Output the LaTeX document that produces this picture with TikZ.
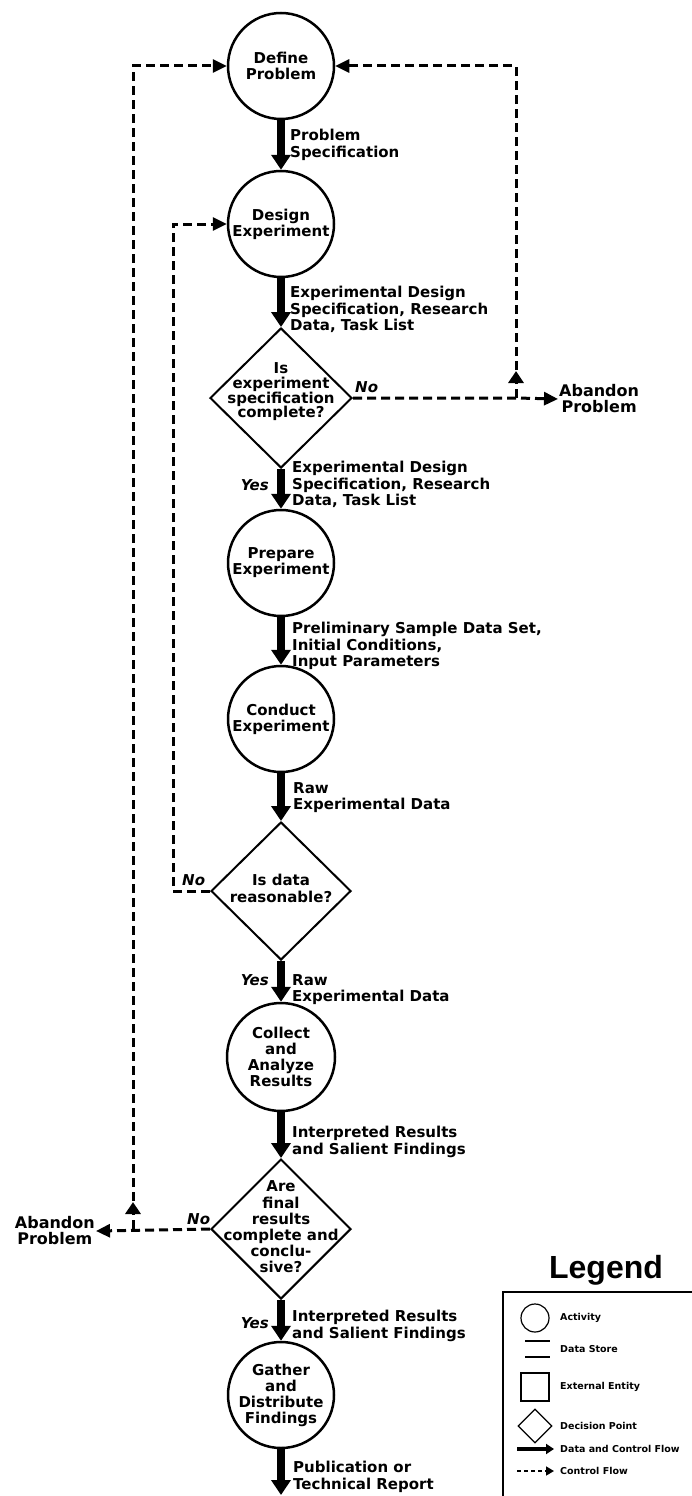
\documentclass[tikz,border=0pt]{standalone}
\usepackage{fontspec}
\setmainfont{DejaVu Sans}
\newfontfamily\legfont{Liberation Sans}
\usetikzlibrary{arrows.meta,shapes.geometric,decorations.markings}
\begin{document}
\begin{tikzpicture}[x=1pt,y=-1pt,
  act/.style={circle,draw,line width=2.5pt,minimum size=106pt,inner sep=0pt,align=center,font=\bfseries\fontsize{15}{16}\selectfont},
  dec/.style={diamond,draw,line width=2pt,minimum width=142pt,minimum height=140pt,inner sep=0pt},
  dectext/.style={align=center,inner sep=0pt,font=\bfseries\fontsize{15}{14.7}\selectfont},
  flow/.style={line width=8pt,-{Triangle[length=15pt,width=19pt]}},
  ctrl/.style={line width=3pt,dash pattern=on 9pt off 5pt,-{Triangle[length=14pt,width=13pt]}},
  midup/.style={postaction={decorate},decoration={markings,mark=at position 27pt with {\arrow{Triangle[length=12pt,width=15pt]}}}},
  lbl/.style={anchor=north west,align=left,inner sep=0pt,font=\bfseries\fontsize{15}{16.5}\selectfont},
  yn/.style={inner sep=0pt,font=\bfseries\itshape\fontsize{15}{16}\selectfont},
  aband/.style={align=center,inner sep=1pt,font=\bfseries\fontsize{16}{16}\selectfont},
  legtext/.style={anchor=west,inner sep=0pt,font=\bfseries\fontsize{9.5}{10}\selectfont}
]
\useasboundingbox (0,0) rectangle (692,1496);
\fill[white] (0,0) rectangle (692,1496);

% main column
\node[act] (dp) at (281,66) {Define\\Problem};
\node[act] (de) at (281,224) {Design\\Experiment};
\node[dec] (d1) at (281,398) {};
\node[dectext] (d1t) at (281,392) {Is\\experiment\\specification\\complete?};
\node[act] (pe) at (281,563) {Prepare\\Experiment};
\node[act] (ce) at (281,719) {Conduct\\Experiment};
\node[dec,minimum height=138pt,minimum width=140pt] (d2) at (281,891) {};
\node[dectext,font=\bfseries\fontsize{15}{17}\selectfont] (d2t) at (281,888) {Is data\\reasonable?};
\node[act,minimum size=108pt] (ca) at (281,1057) {Collect\\and\\Analyze\\Results};
\node[dec,minimum width=140pt] (d3) at (281,1229) {};
\node[dectext,font=\bfseries\fontsize{15}{16.2}\selectfont] (d3t) at (281,1227) {Are\\final\\results\\complete and\\conclu-\\sive?};
\node[act] (gd) at (281,1395) {Gather\\and\\Distribute\\Findings};
\coordinate (end) at (281,1495);

% data and control flows
\draw[flow] (dp.south) -- (de.north);
\draw[flow] (de.south) -- (d1.north);
\draw[flow] (d1.south) -- (pe.north);
\draw[flow] (pe.south) -- (ce.north);
\draw[flow] (ce.south) -- (d2.north);
\draw[flow] (d2.south) -- (ca.north);
\draw[flow] (ca.south) -- (d3.north);
\draw[flow] (d3.south) -- (gd.north);
\draw[flow] (gd.south) -- (end);

% flow labels
\node[lbl] (l1) at (290,129) {Problem\\Specification};
\node[lbl] (l2) at (290,286) {Experimental Design\\Specification, Research\\Data, Task List};
\node[lbl] (l3) at (292,461) {Experimental Design\\Specification, Research\\Data, Task List};
\node[lbl] (l4) at (292,622) {Preliminary Sample Data Set,\\Initial Conditions,\\Input Parameters};
\node[lbl] (l5) at (293,782) {Raw\\Experimental Data};
\node[lbl] (l6) at (292,974) {Raw\\Experimental Data};
\node[lbl] (l7) at (292,1126) {Interpreted Results\\and Salient Findings};
\node[lbl] (l8) at (292,1310) {Interpreted Results\\and Salient Findings};
\node[lbl] (l9) at (293,1461) {Publication or\\Technical Report};

% yes / no
\node[yn,anchor=base east] (y1) at (269,490) {Yes};
\node[yn,anchor=base east] (y2) at (269,985) {Yes};
\node[yn,anchor=base east] (y3) at (269,1328) {Yes};
\node[yn,anchor=base west] (n1) at (355,392) {No};
\node[yn,anchor=base west] (n2) at (182,885) {No};
\node[yn,anchor=base west] (n3) at (187,1224) {No};

% abandon
\node[aband,anchor=west] (a1) at (558,399) {Abandon\\Problem};
\node[aband,anchor=east] (a2) at (96,1231) {Abandon\\Problem};

% control flows
\coordinate (j1) at (516,398);
\coordinate (c1) at (516,66);
\coordinate (j2) at (133,1229);
\coordinate (c2) at (133,66);
\coordinate (k1) at (173,891);
\coordinate (k2) at (173,224);
\draw[ctrl] (d1.east) -- (j1) -- (a1.west);
\draw[ctrl,midup] (j1) -- (c1) -- (dp.east);
\draw[ctrl] (d3.west) -- (a2.east);
\draw[ctrl,midup] (j2) -- (c2) -- (dp.west);
\draw[ctrl] (d2.west) -- (k1) -- (k2) -- (de.west);

% legend
\node[anchor=base,inner sep=0pt,font=\legfont\bfseries\fontsize{32}{32}\selectfont] (legt) at (606,1278) {Legend};
\draw[line width=2pt] (692,1292) -- (503,1292) -- (503,1496);
\node[circle,draw,line width=1.2pt,minimum size=28pt,inner sep=0pt] (lc) at (535,1318) {};
\node[legtext] (lct) at (560,1318) {Activity};
\coordinate (ds1a) at (525,1341); \coordinate (ds1b) at (550,1341);
\coordinate (ds2a) at (525,1357); \coordinate (ds2b) at (550,1357);
\draw[line width=1.2pt] (ds1a) -- (ds1b);
\draw[line width=1.2pt] (ds2a) -- (ds2b);
\node[legtext] (ldt) at (560,1349) {Data Store};
\node[rectangle,draw,line width=1.2pt,minimum size=28pt,inner sep=0pt] (lr) at (535,1387) {};
\node[legtext] (lrt) at (560,1387) {External Entity};
\node[diamond,draw,line width=1.2pt,minimum width=34pt,minimum height=34pt,inner sep=0pt] (ld) at (535,1426) {};
\node[legtext] (ldd) at (560,1426) {Decision Point};
\coordinate (fa) at (517,1449); \coordinate (fb) at (554,1449);
\draw[line width=4pt,-{Triangle[length=8pt,width=10pt]}] (fa) -- (fb);
\node[legtext] (lft) at (560,1449) {Data and Control Flow};
\coordinate (ca1) at (517,1471); \coordinate (cb1) at (554,1471);
\draw[line width=1.5pt,dash pattern=on 4pt off 3pt,-{Triangle[length=8pt,width=9pt]}] (ca1) -- (cb1);
\node[legtext] (lcf) at (560,1471) {Control Flow};
\end{tikzpicture}
\end{document}
